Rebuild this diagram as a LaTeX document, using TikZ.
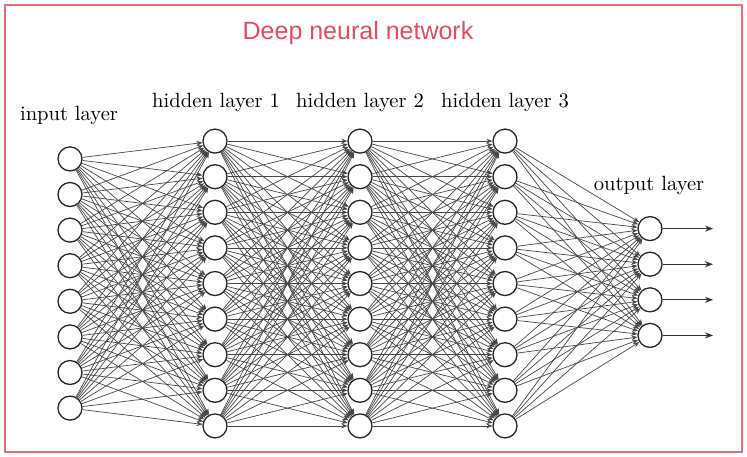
\documentclass[tikz,border=0pt]{standalone}
\usepackage{fontspec}
\newfontfamily\titlefont{Liberation Sans}
\usetikzlibrary{arrows.meta}
\definecolor{framered}{RGB}{228,112,122}
\definecolor{titlered}{RGB}{222,78,98}
\begin{document}
\begin{tikzpicture}[x=0.5pt,y=-0.5pt,
  neuron/.style={circle,draw=black!85,line width=0.65pt,fill=white,minimum size=12pt,inner sep=0pt},
  conn/.style={draw=black!72,line width=0.35pt,-{Stealth[length=3pt,width=2.4pt]}},
  outarrow/.style={draw=black!80,line width=0.45pt,-{Stealth[length=4pt,width=3pt]}},
  lbl/.style={font=\fontsize{10.3}{12}\selectfont,anchor=base,inner sep=0pt}]
\fill[white] (0,0) rectangle (747,456);
\useasboundingbox (0,0) rectangle (747,456);
\draw[framered,line width=1.2pt] (5,5) rectangle (742,452);
\node[font=\titlefont\fontsize{12.5}{14}\selectfont,text=titlered,anchor=base,inner sep=0pt] (title) at (358,39) {Deep neural network};
% nodes
\foreach \i in {1,...,8} \node[neuron] (I\i) at (70,{283.5+(\i-4.5)*35.6}) {};
\foreach \l/\x in {1/215,2/360,3/505} \foreach \j in {1,...,9} \node[neuron] (H\l-\j) at (\x,{283.5+(\j-5)*35.6}) {};
\foreach \k in {1,...,4} \node[neuron] (O\k) at (650,{282+(\k-2.5)*35.6}) {};
\foreach \k in {1,...,4} \coordinate (E\k) at (713,{282+(\k-2.5)*35.6});
% connections
\foreach \i in {1,...,8} \foreach \j in {1,...,9} \draw[conn] (I\i) -- (H1-\j);
\foreach \l/\m in {1/2,2/3} \foreach \i in {1,...,9} \foreach \j in {1,...,9} \draw[conn] (H\l-\i) -- (H\m-\j);
\foreach \i in {1,...,9} \foreach \k in {1,...,4} \draw[conn] (H3-\i) -- (O\k);
\foreach \k in {1,...,4} \draw[outarrow] (O\k) -- (E\k);
% labels
\node[lbl] (Lin) at (69,120) {input layer};
\node[lbl] (Lh1) at (216,107) {hidden layer 1};
\node[lbl] (Lh2) at (360,107) {hidden layer 2};
\node[lbl] (Lh3) at (505,107) {hidden layer 3};
\node[lbl] (Lout) at (649,190) {output layer};
\end{tikzpicture}
\end{document}
